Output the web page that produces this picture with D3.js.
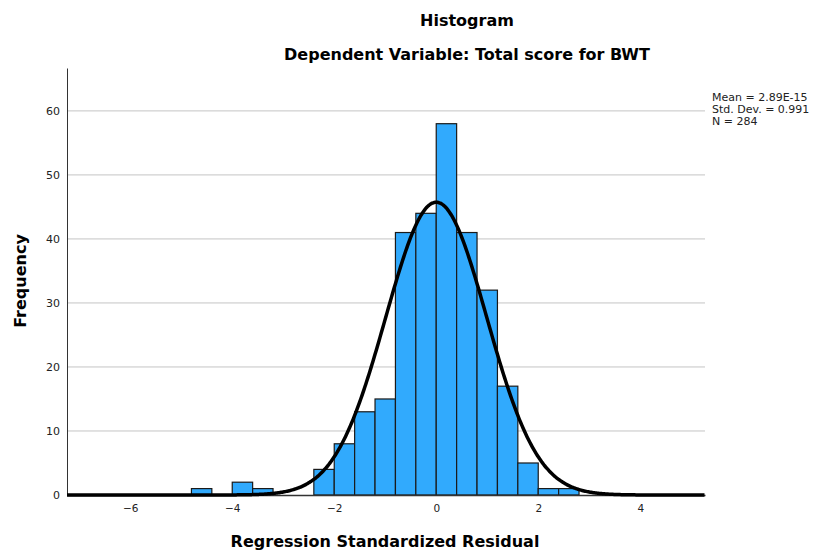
<!DOCTYPE html>
<html>
<head>
<meta charset="utf-8">
<script src="https://cdn.jsdelivr.net/npm/d3@7"></script>
<style>
  body { margin: 0; background: #fff; }
  text { font-family: "DejaVu Sans", sans-serif; }
</style>
</head>
<body>
<div id="chart"></div>
<script>
// bin edges (lower bound) and counts, bin width 0.4
const binStarts = [-4.8, -4.0, -3.6, -2.4, -2.0, -1.6, -1.2, -0.8, -0.4, 0.0, 0.4, 0.8, 1.2, 1.6, 2.0, 2.4];
const binCounts = [1, 2, 1, 4, 8, 13, 15, 41, 44, 58, 41, 32, 17, 5, 1, 1];
const binWidth = 0.4;
const xTicks = [-6, -4, -2, 0, 2, 4];
const yTicks = [0, 10, 20, 30, 40, 50, 60];
const stats = ["Mean = 2.89E-15", "Std. Dev. = 0.991", "N = 284"];
const mean = 0, sd = 0.991, n = 284;

const width = 814, height = 551;
const margin = {top: 68, right: 109, bottom: 56, left: 67};

const svg = d3.select("#chart").append("svg")
  .attr("width", width).attr("height", height);

const x = d3.scaleLinear()
  .domain([-7.24, 5.27])
  .range([margin.left, width - margin.right]);
const y = d3.scaleLinear()
  .domain([0, 66.7])
  .range([height - margin.bottom, margin.top]);

// gridlines
svg.append("g")
  .selectAll("line")
  .data(yTicks.filter(d => d > 0))
  .join("line")
  .attr("x1", x.range()[0]).attr("x2", x.range()[1])
  .attr("y1", d => y(d)).attr("y2", d => y(d))
  .attr("stroke", "#c4c4c4").attr("stroke-width", 1);

// bars
const bins = binStarts.map((s, i) => ({x0: s, x1: s + binWidth, n: binCounts[i]}));
svg.append("g")
  .selectAll("rect")
  .data(bins)
  .join("rect")
  .attr("x", d => x(d.x0))
  .attr("y", d => y(d.n))
  .attr("width", d => x(d.x1) - x(d.x0))
  .attr("height", d => y(0) - y(d.n))
  .attr("fill", "#31aafd")
  .attr("stroke", "#1a1a1a")
  .attr("stroke-width", 1.2);

// axes
const yAxis = svg.append("g")
  .attr("transform", `translate(${margin.left},0)`)
  .call(d3.axisLeft(y).tickValues(yTicks).tickSize(0).tickPadding(7));
yAxis.select(".domain").attr("stroke", "#333");
yAxis.selectAll("text").attr("font-size", 11).attr("fill", "#222")
  .attr("font-family", "DejaVu Sans");

const xAxis = svg.append("g")
  .attr("transform", `translate(0,${y(0)})`)
  .call(d3.axisBottom(x).tickValues(xTicks).tickSize(0).tickPadding(10)
    .tickFormat(d => d < 0 ? "\u2212" + Math.abs(d) : d));
xAxis.select(".domain").attr("stroke", "#333").attr("stroke-width", 1.5);
xAxis.selectAll("text").attr("font-size", 10.5).attr("fill", "#222")
  .attr("font-family", "DejaVu Sans");

// normal curve
const curvePts = d3.range(-7.24, 5.2701, 0.02).map(v => [v,
  n * binWidth * Math.exp(-0.5 * ((v - mean) / sd) ** 2) / (sd * Math.sqrt(2 * Math.PI))]);
svg.append("path")
  .datum(curvePts)
  .attr("d", d3.line().x(d => x(d[0])).y(d => y(d[1])).curve(d3.curveBasis))
  .attr("fill", "none")
  .attr("stroke", "#000")
  .attr("stroke-width", 3.5);

// titles
svg.append("text")
  .attr("x", 467).attr("y", 26)
  .attr("text-anchor", "middle")
  .attr("font-size", 16).attr("font-weight", "bold")
  .text("Histogram");
svg.append("text")
  .attr("x", 467).attr("y", 60)
  .attr("text-anchor", "middle")
  .attr("font-size", 16).attr("font-weight", "bold")
  .text("Dependent Variable: Total score for BWT");

// axis titles
svg.append("text")
  .attr("x", 385).attr("y", 547)
  .attr("text-anchor", "middle")
  .attr("font-size", 16).attr("font-weight", "bold")
  .text("Regression Standardized Residual");
svg.append("text")
  .attr("transform", "translate(26,281) rotate(-90)")
  .attr("text-anchor", "middle")
  .attr("font-size", 16).attr("font-weight", "bold")
  .text("Frequency");

// stats box
svg.append("g")
  .selectAll("text")
  .data(stats)
  .join("text")
  .attr("x", 712)
  .attr("y", (d, i) => 101 + i * 11.8)
  .attr("font-size", 11)
  .attr("fill", "#222")
  .text(d => d);
</script>
</body>
</html>
